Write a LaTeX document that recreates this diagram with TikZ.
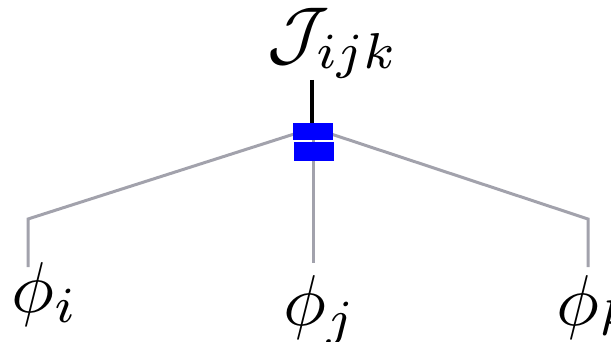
\documentclass[tikz,border=0pt]{standalone}
\definecolor{wire}{RGB}{162,162,172}
\begin{document}
\begin{tikzpicture}[x=1pt,y=-1pt,
  lbl/.style={inner sep=0pt,anchor=base,scale=7.2},
  wireline/.style={draw=wire,line width=3pt},
  blk/.style={fill=blue,draw=none}]
\useasboundingbox (0,0) rectangle (611,342);
% coordinates
\coordinate (hub) at (313,128);
\coordinate (lc) at (28,219);
\coordinate (le) at (28,267);
\coordinate (rc) at (588,219);
\coordinate (re) at (588,267);
\coordinate (me) at (313,263);
\coordinate (ttop) at (312,80);
% labels
\node[lbl] (J) at (333,58) {$\mathcal{J}_{ijk}$};
\node[lbl] (pi) at (45,312) {$\phi_i$};
\node[lbl] (pj) at (320,325) {$\phi_j$};
\node[lbl] (pk) at (596,325) {$\phi_k$};
% wires
\draw[wireline] (hub) -- (lc) -- (le);
\draw[wireline] (hub) -- (rc) -- (re);
\draw[wireline] (hub) -- (me);
% boxes
\node[blk,minimum width=40pt,minimum height=17pt,inner sep=0pt] (b1) at (313,131.5) {};
\node[blk,minimum width=40pt,minimum height=19pt,inner sep=0pt] (b2) at (314,151.5) {};
\draw[line width=3.5pt] (ttop) -- (b1.north -| ttop);
\end{tikzpicture}
\end{document}
